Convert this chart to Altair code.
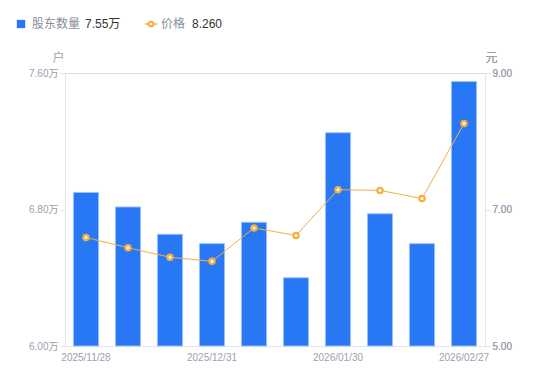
import altair as alt
import pandas as pd

dates = ["2025/11/28", "2025/12/10", "2025/12/19", "2025/12/31", "2026/01/09",
         "2026/01/20", "2026/01/30", "2026/02/10", "2026/02/13", "2026/02/27"]
holders = [6.90, 6.815, 6.655, 6.60, 6.725, 6.40, 7.25, 6.775, 6.60, 7.55]
prices = [6.59, 6.44, 6.30, 6.24, 6.73, 6.62, 7.29, 7.28, 7.16, 8.26]
shown_dates = [dates[0], dates[3], dates[6], dates[9]]
left_ticks = [6.0, 6.8, 7.6]
right_ticks = [5.0, 7.0, 9.0]
legend_names = ["股东数量", "价格"]
legend_values = ["7.55万", "8.260"]

df = pd.DataFrame({"date": dates, "holders": holders, "price": prices})

FONT = "Liberation Sans, Noto Sans CJK SC, sans-serif"
BLUE = "#2878F5"
ORANGE = "#F7AE3C"
GRAY = "#9b9fae"
AXIS = "#e3e5ea"

label_list = "[" + ",".join("'%s'" % d for d in shown_dates) + "]"

x = alt.X("date:N", sort=dates,
          scale=alt.Scale(paddingInner=0.4, paddingOuter=0.2),
          axis=alt.Axis(title=None, labelAngle=0, ticks=False, domainColor=AXIS,
                        labelColor=GRAY, labelFontSize=10, labelFont=FONT, labelPadding=6,
                        labelExpr="indexof(%s, datum.value) >= 0 ? datum.value : ''" % label_list))

base = alt.Chart(df)

bars = base.mark_bar(color=BLUE, stroke="#9fc3fb", strokeWidth=1).encode(
    x=x,
    y=alt.Y("holders:Q", scale=alt.Scale(domain=[6.0, 7.6], zero=False, nice=False),
            axis=alt.Axis(values=left_ticks, labelExpr="format(datum.value,'.2f')+'万'",
                          title="户", titleAngle=0, titleX=-7, titleY=-9,
                          titleAlign="center", titleBaseline="bottom",
                          titleColor=GRAY, titleFontWeight="normal", titleFontSize=12, titleFont=FONT,
                          grid=False, domainColor=AXIS, tickColor=AXIS, tickSize=5,
                          labelColor=GRAY, labelFontSize=10, labelFont=FONT, labelPadding=2)),
    y2=alt.datum(6.0),
)

yr = alt.Y("price:Q", scale=alt.Scale(domain=[5.0, 9.0], zero=False, nice=False),
           axis=alt.Axis(orient="right", values=right_ticks, format=".2f",
                         title="元", titleAngle=0, titleX=6, titleY=-9,
                         titleAlign="center", titleBaseline="bottom",
                         titleColor=GRAY, titleFontWeight="normal", titleFontSize=12, titleFont=FONT,
                         grid=False, domainColor=AXIS, tickColor=AXIS, tickSize=5,
                         labelColor=GRAY, labelFontSize=10, labelFont=FONT, labelPadding=2))

line = base.mark_line(color=ORANGE, strokeWidth=1).encode(x=x, y=yr)
pts = base.mark_point(filled=True, fill="white", stroke=ORANGE, strokeWidth=2.2, size=28, opacity=1).encode(x=x, y=yr)

one = pd.DataFrame({"a": [0]})
LY = -49
leg_sq = alt.Chart(one).mark_square(color=BLUE, size=70, opacity=1).encode(
    x=alt.value(-44), y=alt.value(LY))
leg_rule = alt.Chart(one).mark_rule(color=ORANGE, strokeWidth=1.5).encode(
    x=alt.value(80), x2=alt.value(92), y=alt.value(LY))
leg_pt = alt.Chart(one).mark_point(filled=True, fill="white", stroke=ORANGE, strokeWidth=2, size=22, opacity=1).encode(
    x=alt.value(86), y=alt.value(LY))

def txt(s, xpos, color):
    return alt.Chart(pd.DataFrame({"t": [s]})).mark_text(
        align="left", baseline="middle", font=FONT, fontSize=12, color=color
    ).encode(text="t:N", x=alt.value(xpos), y=alt.value(LY))

t1 = txt(legend_names[0], -33, "#8a8e9c")
t2 = txt(legend_values[0], 20, "#333333")
t3 = txt(legend_names[1], 96, "#8a8e9c")
t4 = txt(legend_values[1], 127, "#333333")

chart = alt.layer(bars, line, pts, leg_sq, leg_rule, leg_pt, t1, t2, t3, t4).resolve_scale(
    y="independent"
).properties(
    width=420, height=273,
    autosize=alt.AutoSizeParams(type="none"),
    padding={"left": 57, "top": 65, "right": 57, "bottom": 26},
).configure_view(stroke=None).configure(background="white")

chart.save("out.html", embed_options={"renderer": "svg", "actions": False})
